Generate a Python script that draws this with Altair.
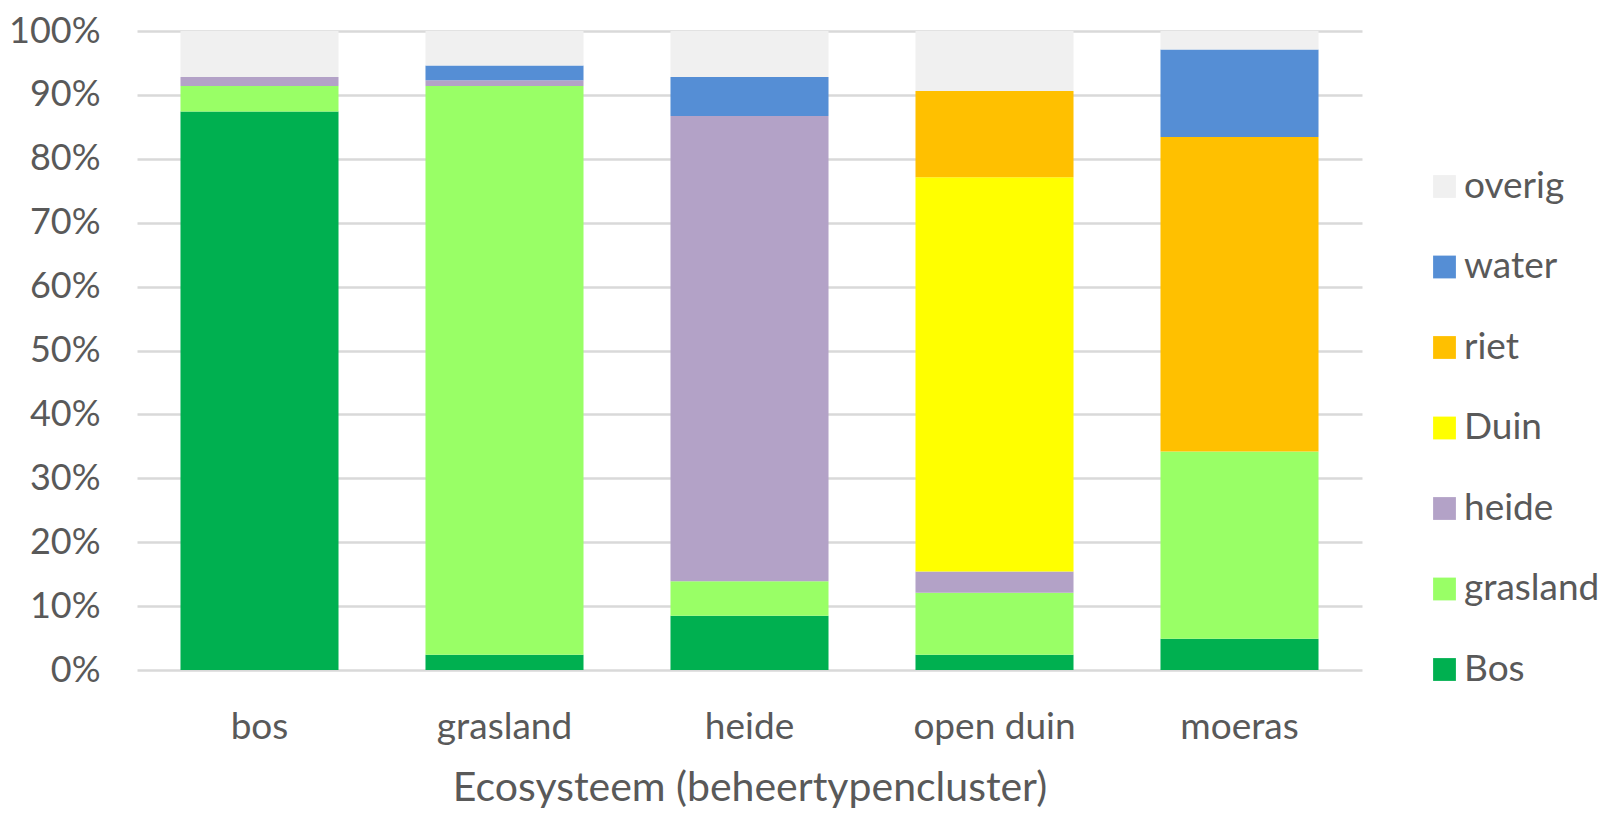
import altair as alt
import pandas as pd

categories = ["bos", "grasland", "heide", "open duin", "moeras"]
series = ["Bos", "grasland", "heide", "Duin", "riet", "water", "overig"]
values = {
    "Bos":      [87.4, 2.4, 8.5, 2.4, 4.9],
    "grasland": [4.0, 89.0, 5.4, 9.7, 29.3],
    "heide":    [1.4, 0.9, 72.8, 3.3, 0.0],
    "Duin":     [0.0, 0.0, 0.0, 61.7, 0.0],
    "riet":     [0.0, 0.0, 0.0, 13.5, 49.2],
    "water":    [0.0, 2.3, 6.1, 0.0, 13.7],
    "overig":   [7.2, 5.4, 7.2, 9.4, 2.9],
}
colors = ["#00B050", "#99FF66", "#B3A2C7", "#FFFF00", "#FFC000", "#558ED5", "#F0F0F0"]
y_ticks = [0.0, 0.1, 0.2, 0.3, 0.4, 0.5, 0.6, 0.7, 0.8, 0.9, 1.0]

rows = []
for si, s in enumerate(series):
    for ci, c in enumerate(categories):
        rows.append({"cat": c, "serie": s, "pct": values[s][ci] / 100.0, "ord": si})
df = pd.DataFrame(rows)

legend_domain = series[::-1]
legend_colors = colors[::-1]

FONT = "Lato"
GREY = "#595959"

chart = alt.Chart(df).mark_bar().encode(
    x=alt.X("cat:N", sort=categories,
            scale=alt.Scale(paddingInner=0.355, paddingOuter=0.1775),
            axis=alt.Axis(title="Ecosysteem (beheertypencluster)", labelAngle=0,
                          labelFont=FONT, labelFontSize=37, labelColor=GREY,
                          titleFont=FONT, titleFontSize=41, titleColor=GREY,
                          titleFontWeight="normal", titlePadding=23,
                          labelPadding=39, domain=False, ticks=False)),
    y=alt.Y("pct:Q", stack="zero",
            scale=alt.Scale(domain=[0, 1], nice=False),
            axis=alt.Axis(title=None, format=".0%", values=y_ticks, labelOverlap=False,
                          labelFont=FONT, labelFontSize=36, labelColor=GREY,
                          labelPadding=37, domain=False, ticks=False,
                          gridColor="#D9D9D9", gridWidth=2.5)),
    color=alt.Color("serie:N",
                    scale=alt.Scale(domain=legend_domain, range=legend_colors),
                    legend=alt.Legend(title=None, orient="none", legendX=1289, legendY=137,
                                      symbolType="square", symbolSize=520,
                                      symbolStrokeWidth=0, labelFont=FONT,
                                      labelFontSize=37, labelColor=GREY,
                                      rowPadding=42.5, labelOffset=1)),
    order=alt.Order("ord:Q", sort="ascending"),
).properties(
    width=1225, height=639,
    autosize=alt.AutoSizeParams(type="none"),
    padding={"left": 129, "top": 23, "right": 245, "bottom": 138},
).configure_view(stroke=None)

chart.save("out.html", embed_options={"renderer": "svg", "actions": False})
